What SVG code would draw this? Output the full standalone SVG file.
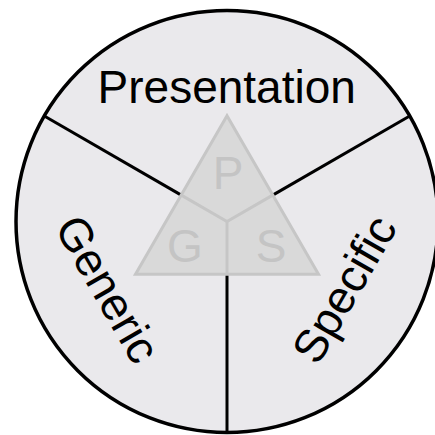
<svg xmlns="http://www.w3.org/2000/svg" width="435" height="435" viewBox="0 0 435 435">
  <style>
    .lbl { font-family: "Liberation Sans", Arial, Helvetica, sans-serif; font-size: 46px; fill: #000; text-anchor: middle; }
    .tri-lbl { font-family: "Liberation Sans", Arial, Helvetica, sans-serif; font-size: 46px; fill: #c4c4c4; text-anchor: middle; }
    .div { stroke: #000; stroke-width: 3; fill: none; }
    .inner { stroke: #c6c6c6; stroke-width: 3; fill: none; }
  </style>
  <rect width="435" height="435" fill="#ffffff"/>
  <g id="disc">
    <circle cx="227" cy="221.5" r="211" fill="#eae9ec" stroke="#000" stroke-width="3.5"/>
  </g>
  <g id="connectors">
    <line class="div" x1="181.25" y1="195.1" x2="44.3" y2="116"/>
    <line class="div" x1="272.75" y1="195.1" x2="409.7" y2="116"/>
    <line class="div" x1="227" y1="274.3" x2="227" y2="432.5"/>
  </g>
  <g id="triangle">
    <polygon points="227,115.85 318.5,274.3 135.5,274.3" fill="#d9d9d9" stroke="#c6c6c6" stroke-width="3"/>
    <polyline class="inner" points="181.25,195.1 227,221.5 272.75,195.1"/>
    <line class="inner" x1="227" y1="221.5" x2="227" y2="274.3"/>
    <text class="tri-lbl" x="228" y="189">P</text>
    <text class="tri-lbl" x="185" y="261.5">G</text>
    <text class="tri-lbl" x="271" y="261.5">S</text>
  </g>
  <g id="presentation">
    <text class="lbl" x="226.7" y="103">Presentation</text>
  </g>
  <g id="generic">
    <text class="lbl" transform="translate(94,297) rotate(60)" x="0" y="0">Generic</text>
  </g>
  <g id="specific">
    <text class="lbl" transform="translate(358,297) rotate(-60)" x="0" y="0">Specific</text>
  </g>
</svg>
